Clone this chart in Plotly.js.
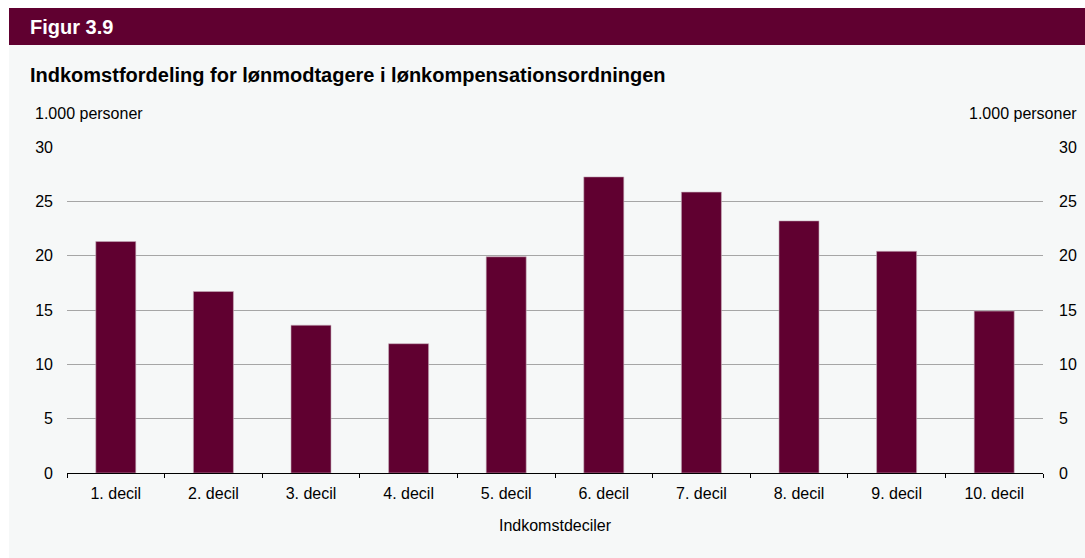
<!DOCTYPE html>
<html>
<head>
<meta charset="utf-8">
<script src="https://cdn.plot.ly/plotly-3.0.1.min.js"></script>
<style>html,body{margin:0;padding:0;background:#fff;}#chart{width:1085px;height:558px;}</style>
</head>
<body>
<div id="chart"></div>
<script>
const categories = ["1. decil","2. decil","3. decil","4. decil","5. decil","6. decil","7. decil","8. decil","9. decil","10. decil"];
const values = [21.3, 16.7, 13.6, 11.9, 19.9, 27.25, 25.85, 23.2, 20.4, 14.9];
const yTicks = [0,5,10,15,20,25,30];
const figLabel = "Figur 3.9";
const chartTitle = "Indkomstfordeling for lønmodtagere i lønkompensationsordningen";
const unitLabel = "1.000 personer";
const xTitle = "Indkomstdeciler";

const maroon = "#600030";
const bg = "#f6f8f8";
const FONT = "Liberation Sans, Arial, sans-serif";

// plot geometry (pixels)
const W = 1085, H = 558, L = 67, R = 42, T = 147, B = 85;
const pw = W - L - R, ph = H - T - B;
const px = x => (x - L) / pw;
const py = y => (H - B - y) / ph;

const traces = [
  {type:"bar", x:categories, y:values, marker:{color:maroon, line:{color:"#c8b0bc", width:0.6}}, width:0.41, hoverinfo:"x+y"},
  {type:"scatter", mode:"markers", x:categories, y:values, yaxis:"y2", marker:{opacity:0}, hoverinfo:"skip", showlegend:false}
];

const axisY = {
  range:[0,30], tickvals:yTicks, ticktext:yTicks.map(String), showgrid:true, gridcolor:"#a6a6a6", gridwidth:1,
  zeroline:false, showline:false, ticks:"", tickfont:{family:FONT, size:16, color:"#000"}, fixedrange:true, automargin:false
};

const layout = {
  width:W, height:H, margin:{l:L, r:R, t:T, b:B, pad:0, autoexpand:false},
  paper_bgcolor:"#ffffff", plot_bgcolor:"rgba(0,0,0,0)",
  showlegend:false, bargap:0.59,
  font:{family:FONT, color:"#000"},
  xaxis:{
    type:"category", range:[-0.5, categories.length - 0.5], autorange:false,
    showline:true, linecolor:"#000", linewidth:1, ticks:"outside", tickson:"boundaries",
    ticklen:4, tickcolor:"#000", tickwidth:1, ticklabelstandoff:6, automargin:false,
    tickfont:{family:FONT, size:16, color:"#000"}, showgrid:false, zeroline:false,
    title:{text:xTitle, font:{family:FONT, size:16, color:"#000"}, standoff:18}, fixedrange:true
  },
  yaxis: Object.assign({}, axisY, {side:"left", ticklabelstandoff:13}),
  yaxis2: Object.assign({}, axisY, {side:"right", overlaying:"y", showgrid:false, ticklabelstandoff:15}),
  shapes:[
    {type:"rect", xref:"paper", yref:"paper", x0:px(9), x1:px(W), y0:py(H), y1:py(45), fillcolor:bg, line:{width:0}, layer:"below"},
    {type:"rect", xref:"paper", yref:"paper", x0:px(9), x1:px(W), y0:py(45), y1:py(8), fillcolor:maroon, line:{width:0}, layer:"below"}
  ],
  annotations:[
    {xref:"paper", yref:"paper", x:px(28), y:py(27), xanchor:"left", yanchor:"middle", showarrow:false,
     text:"<b>"+figLabel+"</b>", font:{family:FONT, size:20, color:"#ffffff"}},
    {xref:"paper", yref:"paper", x:px(28), y:py(75), xanchor:"left", yanchor:"middle", showarrow:false,
     text:"<b>"+chartTitle+"</b>", font:{family:FONT, size:20, color:"#000"}},
    {xref:"paper", yref:"paper", x:px(33), y:py(114), xanchor:"left", yanchor:"middle", showarrow:false,
     text:unitLabel, font:{family:FONT, size:16, color:"#000"}},
    {xref:"paper", yref:"paper", x:px(1079), y:py(114), xanchor:"right", yanchor:"middle", showarrow:false,
     text:unitLabel, font:{family:FONT, size:16, color:"#000"}}
  ]
};

Plotly.newPlot("chart", traces, layout, {displayModeBar:false, staticPlot:true});
</script>
</body>
</html>
